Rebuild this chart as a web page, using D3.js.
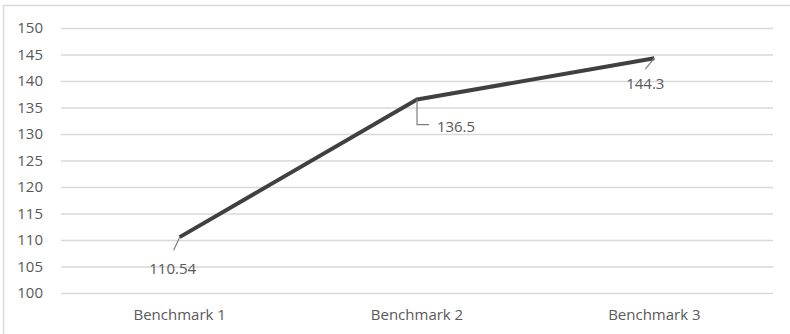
<!DOCTYPE html>
<html>
<head>
<meta charset="utf-8">
<script src="https://cdn.jsdelivr.net/npm/d3@7"></script>
<style>
  html, body { margin: 0; padding: 0; background: #fff; }
  svg { display: block; }
  text { font-family: "Open Sans", "Noto Sans", sans-serif; fill: #595959; }
</style>
</head>
<body>
<svg id="chart" width="790" height="334"></svg>
<script>
// Benchmark scores
const categories = ["Benchmark 1", "Benchmark 2", "Benchmark 3"];
const values = [110.54, 136.5, 144.3];
const yTicks = [100, 105, 110, 115, 120, 125, 130, 135, 140, 145, 150];

const W = 790, H = 334;
const margin = { left: 61, right: 17, top: 28, bottom: 41 };
const fontSize = 15;

const svg = d3.select("#chart");

// outer chart frame (only left and top edges fall inside the view)
svg.append("rect")
  .attr("x", 3.5).attr("y", 5.5)
  .attr("width", 800).attr("height", 340)
  .attr("fill", "none").attr("stroke", "#d9d9d9").attr("stroke-width", 1.5);

const x = d3.scaleBand()
  .domain(categories)
  .range([margin.left, W - margin.right]);

const y = d3.scaleLinear()
  .domain([100, 150])
  .range([H - margin.bottom, margin.top]);

// gridlines and value axis labels
const yAxis = d3.axisLeft(y).tickValues(yTicks).tickSize(-(W - margin.left - margin.right)).tickPadding(18);
const gy = svg.append("g").attr("transform", `translate(${margin.left},0)`).call(yAxis);
gy.select(".domain").remove();
gy.selectAll(".tick line").attr("stroke", "#d9d9d9").attr("stroke-width", 1.3);
gy.selectAll(".tick text").attr("font-size", fontSize).attr("fill", "#595959")
  .style("font-family", "'Open Sans', 'Noto Sans', sans-serif");

// category labels
const xAxis = d3.axisBottom(x).tickSize(0).tickPadding(16);
const gx = svg.append("g").attr("transform", `translate(0,${H - margin.bottom})`).call(xAxis);
gx.select(".domain").remove();
gx.selectAll(".tick text").attr("font-size", fontSize).attr("fill", "#595959")
  .style("font-family", "'Open Sans', 'Noto Sans', sans-serif");

const cx = d => x(d) + x.bandwidth() / 2;
const pts = categories.map((c, i) => [cx(c), y(values[i])]);

// series line
svg.append("path")
  .attr("d", d3.line()(pts))
  .attr("fill", "none")
  .attr("stroke", "#404040")
  .attr("stroke-width", 4)
  .attr("stroke-linejoin", "round");

// data labels with leader lines
const labelOffsets = [
  { dx: -7, dy: 33, leader: (px, py) => [[px, py], [px - 6, py + 13]] },
  { dx: 39, dy: 28, leader: (px, py) => [[px, py], [px, py + 25], [px + 12, py + 25]] },
  { dx: -9, dy: 27, leader: (px, py) => [[px, py], [px - 9, py + 11]] }
];

values.forEach((v, i) => {
  const [px, py] = pts[i];
  const o = labelOffsets[i];
  svg.append("path")
    .attr("d", d3.line()(o.leader(px, py)))
    .attr("fill", "none")
    .attr("stroke", "#7f7f7f")
    .attr("stroke-width", 1.2);
  svg.append("text")
    .attr("x", px + o.dx)
    .attr("y", py + o.dy)
    .attr("text-anchor", "middle")
    .attr("dominant-baseline", "middle")
    .attr("font-size", fontSize)
    .attr("fill", "#404040")
    .text(v);
});
</script>
</body>
</html>
